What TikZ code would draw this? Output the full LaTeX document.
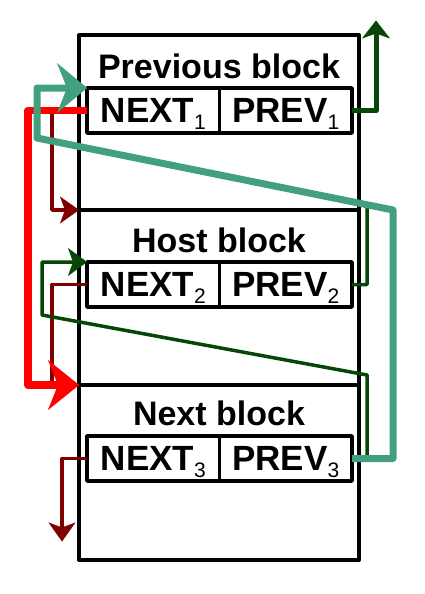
\documentclass[tikz,border=0pt]{standalone}
\usepackage{fontspec}
\setmainfont{Liberation Sans}
\usetikzlibrary{arrows.meta,positioning}
\definecolor{redptr}{RGB}{255,0,0}
\definecolor{tealptr}{RGB}{66,160,126}
\definecolor{greenptr}{RGB}{8,70,8}
\definecolor{maroonptr}{RGB}{128,0,0}
\newcommand{\idx}[1]{\raisebox{-7pt}[0pt][0pt]{\fontsize{21}{21}\selectfont\mdseries #1}}
\begin{document}
\begin{tikzpicture}[x=1pt,y=-1pt,line join=round,
  blk/.style={draw,line width=4pt,minimum width=280pt,minimum height=175pt,inner sep=0pt,outer sep=0pt},
  blktitle/.style={font=\fontsize{34}{34}\selectfont\bfseries,inner sep=0pt},
  field/.style={draw,line width=3.5pt,minimum width=132.5pt,minimum height=45pt,inner sep=0pt,outer sep=0pt,font=\fontsize{35}{35}\selectfont\bfseries},
  oldnext/.style={maroonptr,line width=3.5pt,-{Stealth[length=19pt,width=27pt,inset=5pt,line width=0.5pt]}},
  oldprev/.style={greenptr,line width=3.5pt,-{Stealth[length=19pt,width=28pt,inset=5pt,line width=0.5pt]}},
  newnext/.style={redptr,line width=7.5pt,-{Stealth[length=31pt,width=50pt,inset=10pt,line width=0.5pt]}},
  newprev/.style={tealptr,line width=7pt,-{Stealth[length=30pt,width=50pt,inset=10pt,line width=0.5pt]}}]
\useasboundingbox (0,0) rectangle (424,594);
% the three blocks
\node[blk] (prevblk) at (219,122.5) {};
\node[blk,below=0pt of prevblk] (hostblk) {};
\node[blk,below=0pt of hostblk] (nextblk) {};
\node[blktitle] (prevttl) at ([yshift=-31pt]prevblk.north) {Previous block};
\node[blktitle] (hostttl) at ([yshift=-30pt]hostblk.north) {Host block};
\node[blktitle] (nextttl) at ([yshift=-28pt]nextblk.north) {Next block};
% pointer fields
\node[field,anchor=north west] (next1) at ([shift={(8pt,-53pt)}]prevblk.north west) {NEXT\idx{1}};
\node[field,right=0pt of next1] (prev1) {PREV\idx{1}};
\node[field,anchor=north west] (next2) at ([shift={(8pt,-52pt)}]hostblk.north west) {NEXT\idx{2}};
\node[field,right=0pt of next2] (prev2) {PREV\idx{2}};
\node[field,anchor=north west] (next3) at ([shift={(8pt,-51pt)}]nextblk.north west) {NEXT\idx{3}};
\node[field,right=0pt of next3] (prev3) {PREV\idx{3}};
% old links
\draw[oldnext] (next1.west) -- ++(-35,0) |- (hostblk.north west);
\draw[oldnext] (next2.west) -- ++(-35,0) |- (nextblk.north west);
\draw[oldnext] (next3.west) -- ++(-25,0) -- ++(0,83);
\draw[oldprev] (prev2.east) -| (367,205) -- (37,138) |- (next1.north west);
\draw[oldprev] (prev3.east) -| (367,375) -- (42,315) |- (next2.north west);
\draw[greenptr,line width=5pt,-{Stealth[length=18pt,width=28pt,inset=5pt,line width=0.5pt]}] (prev1.east) -- ++(24,0) -- ++(0,-90);
% new links
\draw[newnext] (next1.west) -- ++(-59,0) |- (nextblk.north west);
\draw[newprev] (prev3.east) -| (393,210) -- (37,138) |- (next1.north west);
\end{tikzpicture}
\end{document}
